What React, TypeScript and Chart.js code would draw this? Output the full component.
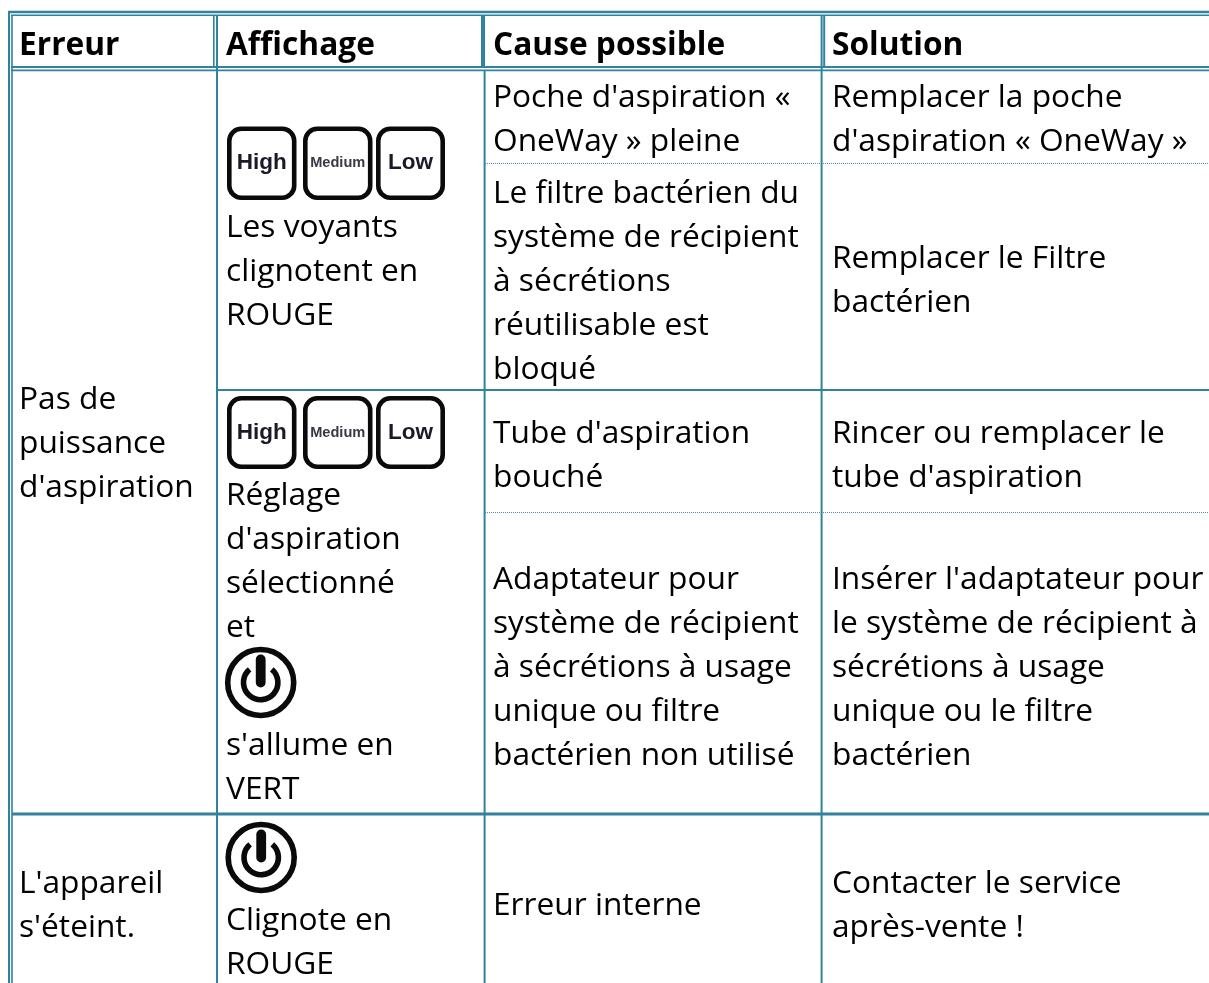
import React, { useEffect, useRef } from "react";
import { Chart, registerables } from "chart.js";

Chart.register(...registerables);

// ---- Table content ----
const headers = ["Erreur", "Affichage", "Cause possible", "Solution"];
const errorCol = [
  ["Pas de", "puissance", "d'aspiration"],
  ["L'appareil", "s'éteint."],
];
const displayCol = [
  ["Les voyants", "clignotent en", "ROUGE"],
  ["Réglage", "d'aspiration", "sélectionné", "et"],
  ["s'allume en", "VERT"],
  ["Clignote en", "ROUGE"],
];
const causeCol = [
  ["Poche d'aspiration «", "OneWay » pleine"],
  ["Le filtre bactérien du", "système de récipient", "à sécrétions", "réutilisable est", "bloqué"],
  ["Tube d'aspiration", "bouché"],
  ["Adaptateur pour", "système de récipient", "à sécrétions à usage", "unique ou filtre", "bactérien non utilisé"],
  ["Erreur interne"],
];
const solutionCol = [
  ["Remplacer la poche", "d'aspiration « OneWay »"],
  ["Remplacer le Filtre", "bactérien"],
  ["Rincer ou remplacer le", "tube d'aspiration"],
  ["Insérer l'adaptateur pour", "le système de récipient à", "sécrétions à usage", "unique ou le filtre", "bactérien"],
  ["Contacter le service", "après-vente !"],
];
const keyLabels = ["High", "Medium", "Low"];

// ---- Layout on the 1209 x 983 scale ----
const W = 1209;
const H = 983;
const LINE = 44;
const colText = [19, 226, 493, 832];
const headerBase = 55;
const errorBase = [408.5, 892.5];
const displayBase = [236.5, 504.5, 754.5, 929.5];
const causeBase = [106.5, 202.5, 442.5, 588.5, 914.5];
const solutionBase = [106.5, 267.5, 442.5, 588.5, 892.5];
const keySlots = [
  [227, 296.5],
  [303, 372.5],
  [376, 445],
];
const keyRows = [
  [126.5, 200],
  [396, 469],
];
const powerIcons = [
  [260.7, 682.5],
  [261.2, 857.5],
];
type Rule = [number, number, number, number, number];
// x0, y0, x1, y1, width
const solidRules: Rule[] = [
  [8, 12, W, 12, 2.4],
  [11, 15.2, W, 15.2, 1.6],
  [11, 67, W, 67, 1.8],
  [11, 70.3, W, 70.3, 1.8],
  [9, 11, 9, H, 2],
  [12, 15, 12, H, 1.6],
  [213.8, 15, 213.8, 67, 1.6],
  [217, 15, 217, H, 2],
  [483, 15, 483, 67, 4],
  [484.6, 70, 484.6, H, 2],
  [821.6, 15, 821.6, H, 2],
  [824.2, 15, 824.2, 67, 2],
  [218, 390, W, 390, 2],
  [12, 814, W, 814, 3.2],
];
const dottedRules: Rule[] = [
  [485, 163.5, W, 163.5, 1],
  [485, 512.5, W, 512.5, 1],
];

const LINE_COLOR = "#31829b";
const TEXT_FONT = '"Open Sans"';
const TEXT_SIZE = 31.7;

function ruleDataset(r: Rule, dotted: boolean) {
  return {
    data: [
      { x: r[0], y: r[1] },
      { x: r[2], y: r[3] },
    ],
    borderColor: dotted ? "#4f93aa" : LINE_COLOR,
    borderWidth: r[4],
    borderDash: dotted ? [1, 1] : [],
    pointRadius: 0,
    tension: 0,
    borderCapStyle: "butt" as const,
    parsing: false as const,
  };
}

const tablePlugin = {
  id: "tableCells",
  beforeDatasetsDraw(chart: any) {
    const ctx = chart.ctx;
    ctx.save();
    ctx.fillStyle = "#ffffff";
    ctx.fillRect(0, 0, chart.width, chart.height);
    ctx.restore();
  },
  afterDatasetsDraw(chart: any) {
    const ctx: CanvasRenderingContext2D = chart.ctx;
    const sx = chart.scales.x;
    const sy = chart.scales.y;
    const X = (v: number) => sx.getPixelForValue(v);
    const Y = (v: number) => sy.getPixelForValue(v);
    ctx.save();
    ctx.textBaseline = "alphabetic";
    ctx.textAlign = "left";
    ctx.fillStyle = "#000000";

    ctx.font = `bold ${TEXT_SIZE}px ${TEXT_FONT}`;
    headers.forEach((h, i) => ctx.fillText(h, X(colText[i]), Y(headerBase)));

    ctx.font = `${TEXT_SIZE}px ${TEXT_FONT}`;
    const blocks = (col: string[][], bases: number[], x: number) =>
      col.forEach((lines, i) =>
        lines.forEach((l, j) => ctx.fillText(l, X(x), Y(bases[i] + j * LINE)))
      );
    blocks(errorCol, errorBase, colText[0]);
    blocks(displayCol, displayBase, colText[1]);
    blocks(causeCol, causeBase, colText[2]);
    blocks(solutionCol, solutionBase, colText[3]);

    // keypad icons
    keyRows.forEach(([top, bottom]) => {
      keySlots.forEach(([left, right], i) => {
        const inset = 2.3;
        ctx.beginPath();
        ctx.roundRect(
          X(left) + inset,
          Y(top) + inset,
          X(right) - X(left) - inset * 2,
          Y(bottom) - Y(top) - inset * 2,
          12
        );
        ctx.lineWidth = 4.6;
        ctx.strokeStyle = "#0a0a0a";
        ctx.stroke();
        ctx.fillStyle = i === 1 ? "#3a3844" : "#1c1a28";
        ctx.textAlign = "center";
        ctx.textBaseline = "middle";
        ctx.font = i === 1 ? 'bold 14.6px "Liberation Sans"' : 'bold 22.5px "Liberation Sans"';
        const mid = (X(left) + X(right)) / 2;
        ctx.fillText(keyLabels[i], mid, (Y(top) + Y(bottom)) / 2);
      });
    });

    // power icons
    ctx.strokeStyle = "#0a0a0a";
    powerIcons.forEach(([cx, cy]) => {
      const px = X(cx);
      const py = Y(cy);
      ctx.lineCap = "butt";
      ctx.beginPath();
      ctx.arc(px, py, 33, 0, Math.PI * 2);
      ctx.lineWidth = 5.6;
      ctx.stroke();
      ctx.beginPath();
      ctx.arc(px, py, 17.2, -Math.PI / 2 + 0.7, -Math.PI / 2 - 0.7 + Math.PI * 2);
      ctx.lineWidth = 5.6;
      ctx.stroke();
      ctx.lineCap = "round";
      ctx.beginPath();
      ctx.moveTo(px, py - 23);
      ctx.lineTo(px, py);
      ctx.lineWidth = 9.8;
      ctx.stroke();
    });
    ctx.restore();
  },
};

export default function App() {
  const ref = useRef<HTMLCanvasElement | null>(null);
  useEffect(() => {
    if (!ref.current) return;
    document.body.style.margin = "0";
    const chart = new Chart(ref.current, {
      type: "line",
      data: {
        datasets: [
          ...solidRules.map((r) => ruleDataset(r, false)),
          ...dottedRules.map((r) => ruleDataset(r, true)),
        ],
      },
      options: {
        animation: false,
        responsive: false,
        events: [],
        layout: { padding: 0 },
        plugins: { legend: { display: false }, tooltip: { enabled: false } },
        scales: {
          x: { type: "linear", display: false, min: 0, max: W },
          y: { type: "linear", display: false, min: 0, max: H, reverse: true },
        },
      },
      plugins: [tablePlugin],
    } as any);
    return () => chart.destroy();
  }, []);
  return <canvas ref={ref} width={W} height={H} style={{ display: "block" }} />;
}
